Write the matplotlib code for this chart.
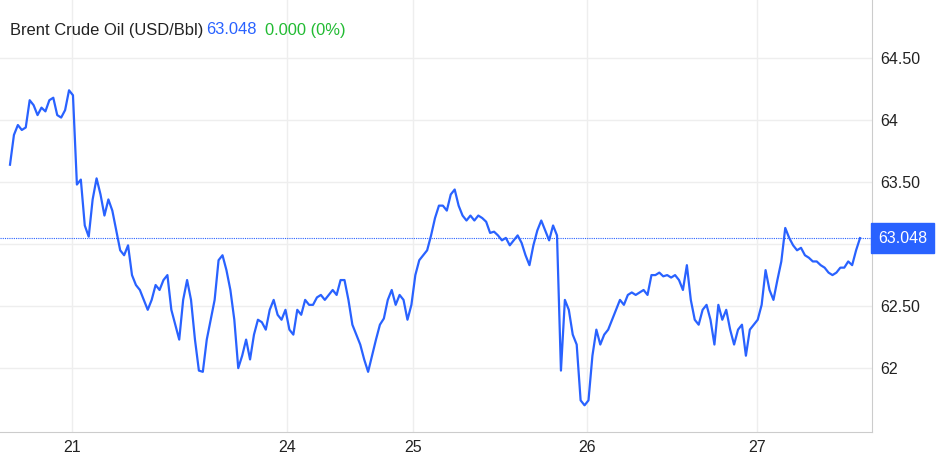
import numpy as np
import matplotlib
matplotlib.use("Agg")
import matplotlib.pyplot as plt

plt.rcParams['font.family'] = ['Liberation Sans', 'DejaVu Sans']

prices = [63.64,63.88,63.96,63.92,63.94,64.16,64.12,64.04,64.10,64.07,64.16,64.18,64.04,64.02,64.08,64.24,64.20,
63.48,63.52,63.15,63.06,63.36,63.53,63.40,63.23,63.36,63.27,63.11,62.95,62.91,62.99,62.75,62.67,62.63,62.55,62.47,
62.55,62.67,62.63,62.71,62.75,62.47,62.35,62.23,62.55,62.71,62.55,62.23,61.98,61.97,62.23,62.39,62.55,62.87,62.91,
62.79,62.63,62.39,62.00,62.10,62.23,62.07,62.27,62.39,62.37,62.31,62.47,62.55,62.43,62.39,62.47,62.31,62.27,62.47,
62.43,62.55,62.51,62.51,62.57,62.59,62.55,62.59,62.63,62.59,62.71,62.71,62.55,62.35,62.27,62.19,62.07,61.97,62.10,
62.23,62.35,62.40,62.55,62.63,62.51,62.59,62.55,62.39,62.51,62.75,62.87,62.91,62.95,63.07,63.21,63.31,63.31,63.27,
63.40,63.44,63.31,63.23,63.19,63.23,63.19,63.23,63.21,63.18,63.09,63.10,63.07,63.03,63.05,62.99,63.03,63.07,63.01,
62.91,62.83,62.99,63.11,63.19,63.11,63.03,63.15,63.07,61.98,62.55,62.47,62.27,62.19,61.74,61.70,61.74,62.10,62.31,
62.19,62.27,62.31,62.39,62.47,62.55,62.51,62.59,62.61,62.59,62.61,62.63,62.59,62.75,62.75,62.77,62.74,62.75,62.73,
62.75,62.71,62.63,62.83,62.55,62.39,62.35,62.47,62.51,62.39,62.19,62.51,62.39,62.47,62.31,62.19,62.31,62.35,62.10,
62.31,62.35,62.39,62.51,62.79,62.63,62.55,62.71,62.86,63.13,63.05,62.99,62.95,62.97,62.91,62.89,62.86,62.86,62.83,
62.81,62.77,62.75,62.77,62.81,62.81,62.86,62.83,62.95,63.048]
last_price = 63.048
xtick_labels = ["21", "24", "25", "26", "27"]
xtick_pos = [0.073, 0.326, 0.474, 0.679, 0.879]
ytick_vals = [62, 62.5, 63, 63.5, 64, 64.5]
ytick_labels = ["62", "62.50", "", "63.50", "64", "64.50"]

x = np.linspace(0, 1, len(prices))
blue = "#2962ff"

fig = plt.figure(figsize=(9.41, 4.66), dpi=100)
ax = fig.add_axes([0, 0.073, 0.9267, 0.927])
ax.plot(x, prices, color=blue, lw=1.6)
ax.axhline(last_price, color=blue, lw=0.8, ls=(0, (1, 1)))
ax.set_xlim(-10/850, 862/850)
ax.set_ylim(61.485, 64.968)
ax.set_xticks(xtick_pos)
ax.set_xticklabels(xtick_labels)
ax.set_yticks(ytick_vals)
ax.set_yticklabels(ytick_labels)
ax.yaxis.tick_right()
ax.tick_params(axis='both', length=0, labelsize=11.5, colors="#222222", pad=6)
ax.grid(True, color="#eeeeee", lw=1)
for s in ["top", "left"]:
    ax.spines[s].set_visible(False)
for s in ["bottom", "right"]:
    ax.spines[s].set_color("#cccccc")
ax.text(1.007, last_price, f"{last_price:.3f}", transform=ax.get_yaxis_transform(),
        ha="left", va="center", color="white", fontsize=11.5,
        bbox=dict(boxstyle="square,pad=0.45", fc=blue, ec=blue))

fig.text(10/941, 1-30/466, "Brent Crude Oil (USD/Bbl)", fontsize=11.9, color="#222222", va="center")
fig.text(206/941, 1-30/466, f"{last_price:.3f}", fontsize=11.9, color=blue, va="center")
fig.text(265/941, 1-30/466, "0.000 (0%)", fontsize=11.9, color="#22bb33", va="center")
fig.savefig("out.png", dpi=100)
